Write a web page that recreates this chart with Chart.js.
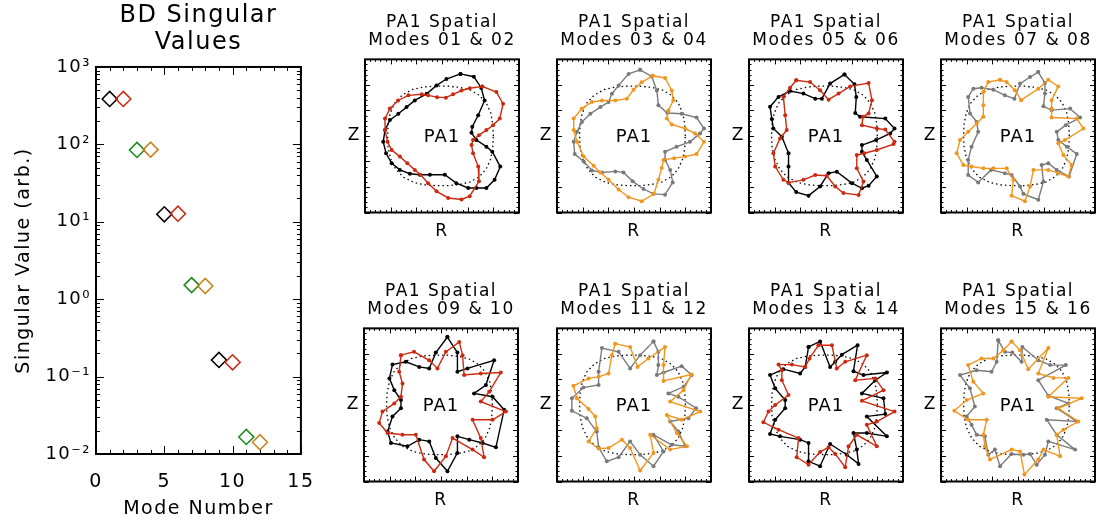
<!DOCTYPE html>
<html>
<head>
<meta charset="utf-8">
<title>BD Singular Values / PA1 Spatial Modes</title>
<script src="https://cdn.jsdelivr.net/npm/chart.js@4.4.1/dist/chart.umd.min.js"></script>
<style>
  html, body { margin: 0; background: #fff; }
  #wrap { position: relative; width: 1098px; height: 525px; overflow: hidden; }
  canvas { position: absolute; }
</style>
</head>
<body>
<div id="wrap"></div>
<script>
// singular values of the BD decomposition, one per mode
const modeNumbers = [1, 2, 3, 4, 5, 6, 7, 8, 9, 10, 11, 12];
const singularValues = [386, 386, 84.7, 85.5, 12.5, 12.7, 1.52, 1.48, 0.164, 0.153, 0.0166, 0.0142];
const modeColors = ['#000000', '#cc2a10', '#1f8a1f', '#c8841e',
                    '#000000', '#cc2a10', '#1f8a1f', '#c8841e',
                    '#000000', '#cc2a10', '#1f8a1f', '#c8841e'];
const decadeValues = [0.01, 0.1, 1, 10, 100, 1000];
const decadeLabels = ['10⁻²', '10⁻¹', '10⁰', '10¹', '10²', '10³'];

// equilibrium boundary of PA1 (dotted), (R, Z) in box units
const baseShape = [[2.0,0],[1.98,0.45],[1.9,0.9],[1.72,1.3],[1.45,1.6],[1.1,1.8],[0.7,1.9],[0.25,1.95],
  [-0.25,1.95],[-0.7,1.92],[-1.15,1.82],[-1.55,1.6],[-1.85,1.28],[-2.02,0.88],[-2.1,0.45],[-2.12,0],
  [-2.1,-0.45],[-2.0,-0.9],[-1.8,-1.3],[-1.5,-1.62],[-1.1,-1.82],[-0.65,-1.92],[-0.2,-1.95],[0.25,-1.95],
  [0.7,-1.9],[1.1,-1.8],[1.45,-1.6],[1.72,-1.3],[1.9,-0.9],[1.98,-0.45]];

// spatial modes, boundary points (R, Z)
const mode01 = [[0.72,2.43],[1.24,2.32],[1.53,1.88],[1.66,1.39],[1.41,0.81],[1.18,0.36],[1.15,0.12],[1.34,-0.16],
  [1.73,-0.42],[1.96,-0.62],[2.27,-1.2],[2.05,-1.72],[1.73,-2.04],[1.34,-2.04],[1.02,-2.04],[0.56,-1.85],
  [0.11,-1.52],[-0.47,-1.52],[-0.86,-1.52],[-1.25,-1.48],[-1.64,-1.33],[-1.96,-1.07],[-2.18,-0.68],[-2.29,-0.23],
  [-2.22,0.23],[-2.03,0.62],[-1.7,0.87],[-1.38,1.13],[-1.06,1.39],[-0.6,1.65],[-0.21,1.98],[0.17,2.23]];
const mode02 = [[1.57,1.94],[2.12,1.72],[2.38,1.26],[2.25,0.68],[1.99,0.42],[1.73,0.23],[1.44,0.03],[1.21,-0.16],
  [1.15,-0.36],[1.21,-0.68],[1.41,-1.2],[1.44,-1.78],[1.08,-2.36],[0.76,-2.49],[0.24,-2.43],[-0.21,-2.17],
  [-0.54,-1.85],[-0.84,-1.52],[-1.06,-1.33],[-1.35,-1.07],[-1.64,-0.81],[-1.96,-0.55],[-2.12,-0.23],[-2.22,0.23],
  [-2.22,0.68],[-2.03,1.07],[-1.71,1.39],[-1.31,1.59],[-0.79,1.63],[-0.54,1.59],[-0.19,1.52],[0.15,1.5],
  [0.43,1.63],[0.76,1.78],[1.08,1.87]];
const mode03 = [[0.24,2.59],[0.69,2.33],[0.89,1.78],[0.95,1.2],[1.3,0.9],[1.86,0.87],[2.44,0.72],[2.73,0.29],
  [2.57,0.1],[2.18,-0.23],[1.66,-0.42],[1.21,-0.62],[1.21,-0.94],[1.41,-1.33],[1.51,-1.82],[1.21,-2.3],
  [0.76,-2.27],[0.37,-2.08],[-0.05,-1.78],[-0.41,-1.43],[-0.73,-1.39],[-1.25,-1.43],[-1.64,-1.35],[-1.96,-1.0],
  [-2.31,-0.71],[-2.35,-0.23],[-2.22,0.16],[-2.03,0.55],[-1.7,0.87],[-1.31,1.13],[-0.99,1.33],[-0.86,1.65],
  [-0.6,1.98],[-0.21,2.43]];
const mode04 = [[0.73,2.36],[1.21,2.27],[1.47,1.78],[1.53,1.39],[1.34,1.0],[1.28,0.68],[1.47,0.45],[1.99,0.29],
  [2.38,0.1],[2.73,-0.23],[2.44,-0.71],[1.99,-0.81],[1.56,-0.87],[1.15,-0.94],[1.08,-1.26],[0.95,-1.72],
  [0.78,-2.27],[0.3,-2.56],[-0.21,-2.4],[-0.6,-2.1],[-0.99,-1.72],[-1.31,-1.43],[-1.57,-1.17],[-1.96,-0.81],
  [-2.22,-0.23],[-2.35,0.23],[-2.35,0.68],[-2.03,1.07],[-1.64,1.33],[-1.25,1.39],[-0.73,1.39],[-0.28,1.46],
  [-0.02,1.81],[0.3,2.1]];
const mode05 = [[0.72,2.41],[1.11,2.02],[1.18,1.53],[1.14,0.9],[1.33,0.75],[2.31,0.68],[2.67,0.29],[2.5,0.1],
  [1.95,-0.16],[1.4,-0.36],[1.4,-0.62],[1.59,-0.94],[1.98,-1.59],[1.66,-1.95],[1.4,-2.05],[1.01,-1.85],
  [0.42,-1.4],[0.1,-1.46],[-0.23,-1.98],[-0.68,-2.34],[-1.16,-2.2],[-1.46,-1.83],[-1.46,-1.2],[-1.46,-0.68],
  [-1.72,-0.03],[-2.05,0.29],[-2.11,0.66],[-2.18,1.14],[-1.85,1.53],[-1.4,1.76],[-0.88,1.66],[-0.42,1.46],
  [-0.16,1.46],[0.16,2.05]];
const mode06 = [[-1.16,2.18],[-0.62,2.11],[-0.23,1.79],[0.1,1.42],[0.49,1.66],[0.94,1.94],[1.66,2.07],[1.79,1.4],
  [1.66,0.88],[1.44,0.75],[1.4,0.42],[1.98,0.29],[2.31,0.25],[2.67,-0.23],[2.63,-0.32],[1.98,-0.55],
  [1.49,-0.68],[1.2,-0.75],[1.2,-1.27],[1.46,-1.79],[1.27,-2.31],[0.68,-2.24],[0.36,-1.98],[0.03,-1.56],
  [-0.42,-1.53],[-0.88,-1.72],[-1.46,-1.83],[-1.66,-1.72],[-1.98,-1.2],[-2.05,-0.68],[-1.79,-0.1],[-1.53,0.23],
  [-1.59,0.81],[-1.66,1.53],[-1.4,1.89]];
const mode07 = [[0.79,2.5],[1.05,2.07],[1.05,1.66],[0.99,1.16],[1.31,1.01],[2.03,1.07],[2.42,0.72],[1.86,0.42],
  [1.51,0.16],[1.57,-0.16],[1.9,-0.42],[2.29,-0.71],[1.99,-1.59],[1.51,-1.33],[1.18,-1.07],[0.92,-1.14],
  [0.99,-1.79],[0.79,-2.5],[0.21,-2.27],[0.08,-1.98],[-0.25,-1.53],[-0.51,-1.46],[-1.05,-1.33],[-1.55,-1.82],
  [-1.94,-1.53],[-1.94,-0.94],[-1.81,-0.42],[-1.55,0.16],[-1.61,0.55],[-1.87,0.88],[-1.94,1.53],[-1.74,1.85],
  [-1.42,1.89],[-0.96,1.81],[-0.51,1.59],[-0.14,1.46],[0.08,2.05],[0.47,2.31]];
const mode08 = [[-0.7,2.2],[-1.16,2.11],[-1.35,1.72],[-1.35,1.2],[-1.35,0.75],[-1.61,0.49],[-1.94,0.16],[-2.26,-0.16],
  [-2.39,-0.68],[-2.13,-1.14],[-1.81,-1.2],[-1.35,-1.27],[-0.96,-1.27],[-0.44,-1.27],[-0.18,-1.72],[-0.25,-2.34],
  [0.27,-2.56],[0.47,-1.98],[0.6,-1.33],[1.18,-1.33],[1.57,-1.46],[1.96,-1.59],[2.09,-1.14],[1.77,-0.75],
  [1.57,-0.29],[1.83,-0.16],[2.55,0.29],[2.29,0.68],[1.31,0.72],[1.31,1.07],[1.31,1.4],[1.57,1.94],
  [1.18,2.2],[0.79,1.85],[0.12,1.4],[-0.12,1.79],[-0.44,2.11]];
const mode09 = [[0.25,2.66],[0.64,2.05],[0.64,1.3],[1.03,1.43],[2.07,1.75],[1.75,0.78],[1.29,0.45],[2.01,0.32],
  [2.46,-0.19],[2.14,-1.66],[1.62,-1.49],[1.1,-1.36],[0.64,-1.23],[0.64,-1.88],[0.25,-2.6],[-0.2,-2.08],
  [-0.46,-1.43],[-0.85,-1.36],[-1.31,-1.62],[-1.95,-1.49],[-2.08,-1.04],[-1.89,-0.45],[-1.56,-0.13],[-1.56,0.19],
  [-1.82,0.58],[-2.01,1.04],[-1.89,1.58],[-1.37,1.69],[-0.85,1.49],[-0.46,1.43],[-0.2,2.05]];
const mode10 = [[-1.56,1.95],[-1.05,2.08],[-0.46,1.75],[-0.14,1.43],[0.19,2.08],[0.71,2.47],[0.84,1.95],[0.9,1.17],
  [1.55,1.23],[2.33,1.27],[1.88,0.52],[1.55,0.13],[2.53,-0.26],[2.01,-0.58],[1.23,-0.58],[1.55,-1.3],
  [1.68,-2.05],[1.23,-1.75],[0.45,-1.3],[0.19,-2.01],[-0.27,-2.6],[-0.66,-2.14],[-0.98,-1.17],[-1.5,-1.17],
  [-2.08,-1.1],[-2.41,-0.71],[-2.28,-0.26],[-1.82,0.06],[-1.56,0.32],[-1.5,0.84],[-1.63,1.3]];
const mode11 = [[0.76,2.49],[0.95,2.08],[0.95,1.56],[0.89,1.17],[1.15,1.27],[1.86,1.52],[2.25,1.17],[1.93,0.71],
  [1.34,0.45],[1.73,0.32],[2.42,-0.13],[2.12,-0.52],[1.41,-0.65],[1.73,-1.04],[1.99,-1.62],[1.47,-1.56],
  [0.76,-1.17],[1.15,-1.82],[0.76,-2.4],[0.24,-1.95],[-0.15,-1.43],[-0.6,-2.05],[-1.06,-2.21],[-1.38,-1.66],
  [-1.45,-1.04],[-1.84,-0.52],[-2.42,-0.23],[-2.42,0.26],[-1.97,0.68],[-1.38,0.78],[-1.38,1.3],[-1.25,2.23],
  [-0.6,2.08],[-0.15,1.43],[0.24,1.95]];
const mode12 = [[-0.73,2.4],[-0.15,2.27],[0.14,1.49],[0.56,1.82],[1.21,2.27],[1.15,1.56],[1.15,0.94],[2.23,1.19],
  [1.93,0.58],[1.41,0.13],[2.58,-0.26],[1.86,-0.58],[1.28,-0.39],[1.67,-1.1],[2.06,-1.62],[1.41,-1.75],
  [0.63,-1.17],[0.76,-1.88],[0.24,-2.57],[-0.15,-1.69],[-0.47,-1.36],[-0.99,-1.69],[-1.38,-1.71],[-1.77,-1.43],
  [-1.45,-0.91],[-1.51,-0.45],[-1.77,-0.16],[-2.23,0.26],[-2.36,0.75],[-1.77,1.04],[-1.38,1.1],[-0.99,1.23],
  [-0.86,1.95]];
const mode13 = [[-0.68,2.27],[-0.23,2.49],[0.16,1.49],[0.36,1.69],[0.62,1.97],[1.23,2.34],[1.07,1.32],[1.46,1.17],
  [2.37,1.27],[1.92,0.97],[1.4,0.45],[2.24,0.26],[2.31,-0.36],[1.59,-0.45],[2.37,-1.23],[1.59,-1.1],
  [1.07,-1.1],[1.2,-1.75],[1.27,-2.31],[0.81,-1.95],[0.16,-1.53],[-0.23,-2.4],[-0.68,-2.21],[-0.68,-1.49],
  [-1.01,-1.36],[-1.79,-1.23],[-2.18,-1.14],[-1.98,-0.58],[-1.59,-0.13],[-1.59,0.19],[-1.98,0.65],[-2.18,1.17],
  [-1.66,1.4],[-1.01,1.23],[-0.81,1.49]];
const mode14 = [[-0.29,2.34],[0.23,2.34],[0.42,1.43],[0.75,1.69],[1.59,1.95],[1.14,0.97],[1.92,1.04],[2.24,0.58],
  [1.4,0.16],[2.67,-0.26],[1.98,-0.65],[1.59,-0.78],[1.98,-1.62],[1.2,-1.17],[0.88,-1.62],[0.75,-2.44],
  [0.36,-1.92],[0.1,-1.66],[-0.23,-1.84],[-0.68,-2.34],[-1.14,-2.05],[-1.07,-1.3],[-1.85,-0.97],[-2.44,-0.68],
  [-2.24,-0.26],[-1.98,0],[-1.46,0.39],[-1.72,0.97],[-1.72,1.36],[-1.85,1.58],[-1.33,1.58],[-0.81,1.49],
  [-0.64,1.82]];
const mode15 = [[-0.77,2.53],[-0.51,2.08],[-0.22,2.05],[0.14,1.69],[0.17,2.27],[0.79,1.75],[1.25,1.56],[1.86,1.56],
  [0.79,0.97],[1.18,0.36],[1.96,0.06],[1.51,-0.13],[2.29,-0.65],[1.12,-0.58],[1.51,-1.17],[2.22,-1.75],
  [1.18,-1.43],[1.05,-1.95],[0.73,-2.34],[0.47,-1.92],[0.21,-1.95],[-0.25,-1.92],[-0.7,-2.4],[-0.9,-1.75],
  [-1.16,-1.95],[-1.29,-1.23],[-1.61,-1.17],[-1.81,-0.78],[-2.0,-0.45],[-1.68,-0.06],[-1.87,0.65],[-2.26,1.17],
  [-1.61,1.36],[-1.03,1.3],[-0.83,1.69]];
const mode16 = [[-0.25,2.49],[0.08,2.14],[0.4,1.4],[1.18,2.23],[0.79,1.23],[1.38,1.06],[1.96,1.06],[1.18,0.32],
  [2.48,0.26],[1.57,-0.13],[2.35,-0.65],[1.77,-0.97],[1.51,-1.17],[1.64,-2.01],[0.99,-1.75],[0.79,-2.14],
  [0.25,-2.73],[0.08,-1.82],[-0.25,-1.75],[-1.09,-2.14],[-1.29,-1.62],[-1.35,-1.17],[-1.22,-0.58],[-1.94,-0.58],
  [-2.48,-0.23],[-2.0,0.19],[-1.35,0.45],[-1.74,0.91],[-1.94,1.56],[-1.42,1.82],[-0.96,1.82],[-0.57,2.14]];

const panels = [
  { title: ['PA1 Spatial', 'Modes 01 & 02'], modes: [mode01, mode02], colors: ['#000000', '#cc2a10'] },
  { title: ['PA1 Spatial', 'Modes 03 & 04'], modes: [mode03, mode04], colors: ['#7a7a7a', '#f0961e'] },
  { title: ['PA1 Spatial', 'Modes 05 & 06'], modes: [mode05, mode06], colors: ['#000000', '#cc2a10'] },
  { title: ['PA1 Spatial', 'Modes 07 & 08'], modes: [mode07, mode08], colors: ['#7a7a7a', '#f0961e'] },
  { title: ['PA1 Spatial', 'Modes 09 & 10'], modes: [mode09, mode10], colors: ['#000000', '#cc2a10'] },
  { title: ['PA1 Spatial', 'Modes 11 & 12'], modes: [mode11, mode12], colors: ['#7a7a7a', '#f0961e'] },
  { title: ['PA1 Spatial', 'Modes 13 & 14'], modes: [mode13, mode14], colors: ['#000000', '#cc2a10'] },
  { title: ['PA1 Spatial', 'Modes 15 & 16'], modes: [mode15, mode16], colors: ['#7a7a7a', '#f0961e'] }
];
const centreLabel = 'PA1';

Chart.defaults.font.family = '"DejaVu Sans", sans-serif';
Chart.defaults.color = '#000';

function addCanvas(left, top, w, h) {
  const c = document.createElement('canvas');
  c.width = w; c.height = h;
  c.style.left = left + 'px'; c.style.top = top + 'px';
  c.style.width = w + 'px'; c.style.height = h + 'px';
  document.getElementById('wrap').appendChild(c);
  return c;
}

// wider letter spacing, closer to the plotting font
const spacing = px => ({
  id: 'spacing',
  beforeDraw(chart) { chart.ctx.letterSpacing = px; }
});

// name of the shot written at the origin of the panel
const centreText = text => ({
  id: 'centreText',
  afterDatasetsDraw(chart) {
    const { ctx, scales } = chart;
    ctx.save();
    ctx.font = '18px "DejaVu Sans", sans-serif';
    ctx.letterSpacing = '1px';
    ctx.fillStyle = '#000';
    ctx.textAlign = 'center';
    ctx.textBaseline = 'middle';
    ctx.fillText(text, scales.x.getPixelForValue(0), scales.y.getPixelForValue(0) + 1);
    ctx.restore();
  }
});

// box frame with inward ticks on all four sides
function frameTicks(xTicks, yTicks, frameWidth) {
  return {
    id: 'frameTicks',
    afterDatasetsDraw(chart) {
      const { ctx, chartArea: a, scales } = chart;
      ctx.save();
      ctx.strokeStyle = '#000';
      ctx.lineWidth = 1;
      ctx.beginPath();
      xTicks.forEach(([v, len]) => {
        const px = Math.round(scales.x.getPixelForValue(v)) + 0.5;
        ctx.moveTo(px, a.bottom); ctx.lineTo(px, a.bottom - len);
        ctx.moveTo(px, a.top); ctx.lineTo(px, a.top + len);
      });
      yTicks.forEach(([v, len]) => {
        const py = Math.round(scales.y.getPixelForValue(v)) + 0.5;
        ctx.moveTo(a.left, py); ctx.lineTo(a.left + len, py);
        ctx.moveTo(a.right, py); ctx.lineTo(a.right - len, py);
      });
      ctx.stroke();
      ctx.lineWidth = frameWidth;
      ctx.strokeRect(a.left, a.top, a.width, a.height);
      ctx.restore();
    }
  };
}

const noGrid = { display: false, drawTicks: false };

// --- singular value spectrum ---
const svXTicks = [];
for (let v = 0; v <= 15; v++) svXTicks.push([v, v % 5 === 0 ? 8 : 4]);
const svYTicks = [[1000, 8]];
decadeValues.slice(0, 5).forEach(d => {
  for (let k = 1; k <= 9; k++) svYTicks.push([k * d, k === 1 ? 8 : 4]);
});

new Chart(addCanvas(0, 0, 330, 525), {
  type: 'scatter',
  data: {
    datasets: [{
      data: modeNumbers.map((m, i) => ({ x: m, y: singularValues[i] })),
      pointStyle: 'rectRot',
      pointRadius: 7.5,
      pointHoverRadius: 7.5,
      pointBorderWidth: 1.6,
      pointBorderColor: modeColors,
      pointBackgroundColor: 'rgba(0,0,0,0)'
    }]
  },
  options: {
    responsive: false,
    animation: false,
    events: [],
    layout: { padding: { right: 24 } },
    plugins: {
      legend: { display: false },
      tooltip: { enabled: false },
      title: {
        display: true,
        fullSize: false,
        text: ['BD Singular', 'Values'],
        color: '#000',
        font: { size: 24, weight: 'normal', lineHeight: 1.12 },
        padding: { top: 2.8, bottom: 10.4 }
      }
    },
    scales: {
      x: {
        type: 'linear', min: 0, max: 15,
        afterFit: s => { s.height = 71; },
        grid: noGrid, border: { display: false },
        ticks: { stepSize: 5, font: { size: 19 }, padding: 17, maxRotation: 0 },
        title: { display: true, text: 'Mode Number', font: { size: 19 }, padding: { top: 0, bottom: 5 } }
      },
      y: {
        type: 'logarithmic', min: 0.01, max: 1000,
        afterFit: s => { s.width = 96; },
        grid: noGrid, border: { display: false },
        ticks: {
          autoSkip: false, font: { size: 18 }, padding: 5,
          callback: v => {
            const i = decadeValues.findIndex(d => Math.abs(d - v) < d * 1e-6);
            return i < 0 ? '' : decadeLabels[i];
          }
        },
        title: { display: true, text: 'Singular Value (arb.)', font: { size: 19 }, padding: { top: 13, bottom: 0 } }
      }
    }
  },
  plugins: [spacing('1.5px'), frameTicks(svXTicks, svYTicks, 2)]
});

// --- PA1 spatial mode panels ---
const boxTicks = [];
for (let i = 0; i <= 30; i++) boxTicks.push([-3 + i * 0.2, i % 5 === 0 ? 5 : 2.5]);

const closed = pts => pts.concat([pts[0]]).map(([r, z]) => ({ x: r, y: z }));

panels.forEach((p, i) => {
  const col = i % 4, row = Math.floor(i / 4);
  const boxLeft = 365 + 192 * col - (row === 1 && col === 0 ? 1 : 0);
  const canvas = addCanvas(boxLeft - 22, row * 269, 182, 256);
  const modeSet = (pts, color, order) => ({
    data: closed(pts),
    showLine: true,
    borderColor: color,
    backgroundColor: color,
    borderWidth: 1.4,
    pointRadius: 2,
    pointHoverRadius: 2,
    pointBorderWidth: 0,
    order
  });
  new Chart(canvas, {
    type: 'scatter',
    data: {
      datasets: [
        modeSet(p.modes[0], p.colors[0], 1),
        modeSet(p.modes[1], p.colors[1], 0),
        {
          data: closed(baseShape),
          showLine: true,
          borderColor: '#000',
          borderWidth: 1.3,
          borderDash: [1.5, 3],
          pointRadius: 0,
          pointHoverRadius: 0,
          order: 2
        }
      ]
    },
    options: {
      responsive: false,
      animation: false,
      events: [],
      layout: { padding: { right: 6 } },
      plugins: {
        legend: { display: false },
        tooltip: { enabled: false },
        title: {
          display: true,
          fullSize: false,
          text: p.title,
          color: '#000',
          font: { size: 17, weight: 'normal', lineHeight: 1.09 },
          padding: { top: 13, bottom: 9.3 }
        }
      },
      scales: {
        x: {
          type: 'linear', min: -3, max: 3,
          afterFit: s => { s.height = 43.5; },
          grid: noGrid, border: { display: false },
          ticks: { display: false },
          title: { display: true, text: 'R', font: { size: 17 }, padding: { top: 0, bottom: 14 } }
        },
        y: {
          type: 'linear', min: -3, max: 3,
          afterFit: s => { s.width = 22; },
          grid: noGrid, border: { display: false },
          ticks: {
            stepSize: 1, autoSkip: false, font: { size: 17 }, padding: 4,
            callback: v => (v === 0 ? 'Z' : '')
          }
        }
      }
    },
    plugins: [spacing('1.5px'), frameTicks(boxTicks, boxTicks, 2), centreText(centreLabel)]
  });
});
</script>
</body>
</html>
